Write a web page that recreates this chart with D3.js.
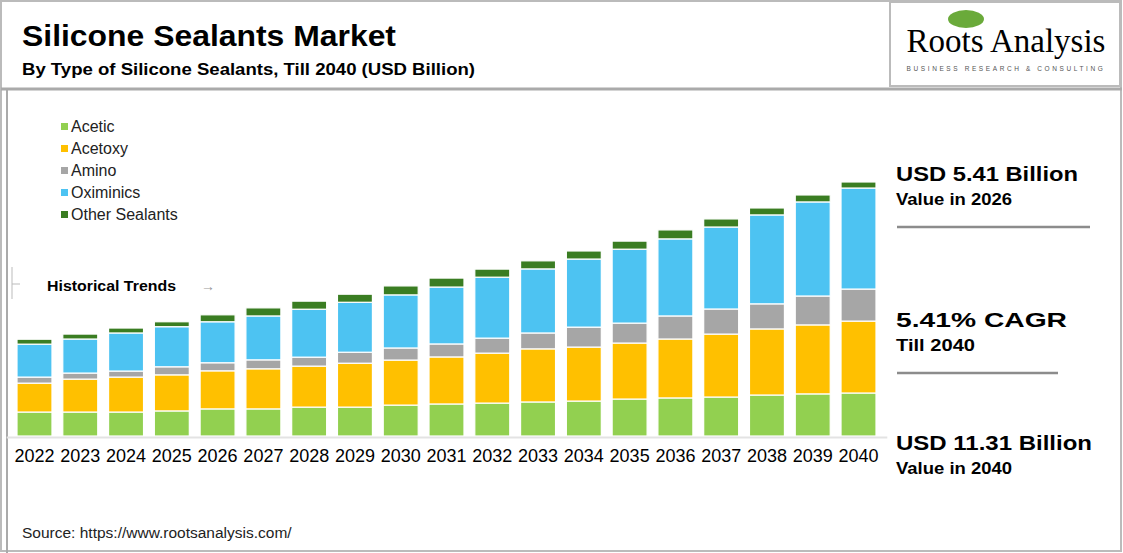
<!DOCTYPE html>
<html>
<head>
<meta charset="utf-8">
<script src="https://cdn.jsdelivr.net/npm/d3@7"></script>
<style>
  body { margin: 0; background: #fff; }
  svg { font-family: Arial, "Liberation Sans", sans-serif; }
</style>
</head>
<body>
<svg id="chart" width="1123" height="553"></svg>
<script>
const years = ["2022","2023","2024","2025","2026","2027","2028","2029","2030","2031",
  "2032","2033","2034","2035","2036","2037","2038","2039","2040"];
const seriesNames = ["Acetic", "Acetoxy", "Amino", "Oximinics", "Other Sealants"];
const colors = ["#92d050", "#ffc000", "#a6a6a6", "#4dc3f2", "#3a7d22"];

// USD billion
const acetic    = [1.07,1.07,1.07,1.12,1.21,1.21,1.29,1.29,1.38,1.43,1.47,1.52,1.56,1.65,1.70,1.74,1.83,1.88,1.92];
const acetoxy   = [1.29,1.47,1.56,1.61,1.70,1.79,1.83,1.96,2.01,2.10,2.23,2.37,2.41,2.50,2.63,2.81,2.95,3.08,3.21];
const amino     = [0.27,0.27,0.27,0.36,0.36,0.40,0.40,0.49,0.54,0.58,0.67,0.71,0.89,0.89,1.03,1.12,1.12,1.29,1.43];
const oximinics = [1.47,1.52,1.70,1.79,1.83,1.96,2.14,2.23,2.37,2.54,2.72,2.86,3.04,3.30,3.44,3.66,3.97,4.20,4.51];
const others    = [0.22,0.22,0.22,0.22,0.31,0.36,0.36,0.36,0.40,0.40,0.36,0.36,0.36,0.36,0.40,0.36,0.31,0.31,0.27];

const rows = years.map((y, i) => ({
  year: y,
  "Acetic": acetic[i], "Acetoxy": acetoxy[i], "Amino": amino[i],
  "Oximinics": oximinics[i], "Other Sealants": others[i]
}));

const svg = d3.select('#chart');

// frame
svg.append('rect').attr('x', 1).attr('y', 1).attr('width', 1120).attr('height', 550)
  .attr('fill', 'none').attr('stroke', '#bbb').attr('stroke-width', 2);
svg.append('line').attr('x1', 1).attr('x2', 1122).attr('y1', 89).attr('y2', 89)
  .attr('stroke', '#aaa').attr('stroke-width', 3);
svg.append('line').attr('x1', 7).attr('x2', 7).attr('y1', 89).attr('y2', 553)
  .attr('stroke', '#aaa').attr('stroke-width', 2);
svg.append('rect').attr('x', 890).attr('y', 2).attr('width', 230).attr('height', 84)
  .attr('fill', 'none').attr('stroke', '#bbb').attr('stroke-width', 2);

// titles
svg.append('text').attr('x', 22).attr('y', 46).attr('font-size', 29).attr('font-weight', 'bold')
  .attr('textLength', 374).attr('lengthAdjust', 'spacingAndGlyphs')
  .text('Silicone Sealants Market');
svg.append('text').attr('x', 22).attr('y', 75).attr('font-size', 16).attr('font-weight', 'bold')
  .attr('textLength', 453).attr('lengthAdjust', 'spacingAndGlyphs')
  .text('By Type of Silicone Sealants, Till 2040 (USD Billion)');

// logo
svg.append('ellipse').attr('cx', 966).attr('cy', 19).attr('rx', 18).attr('ry', 9).attr('fill', '#6aaa3a');
svg.append('text').attr('x', 1006).attr('y', 52).attr('text-anchor', 'middle')
  .attr('font-family', '"Liberation Serif", "DejaVu Serif", serif').attr('font-size', 33)
  .text('Roots Analysis');
svg.append('text').attr('x', 1006).attr('y', 71).attr('text-anchor', 'middle')
  .attr('font-size', 6.5).attr('letter-spacing', 2.6).attr('fill', '#555')
  .text('BUSINESS RESEARCH & CONSULTING');

// scales
const x = d3.scaleBand().domain(years).range([6.2, 886.8]).paddingInner(0.236).paddingOuter(0.236);
const y = d3.scaleLinear().domain([0, 12]).range([436, 167.2]);

const stacked = d3.stack().keys(seriesNames)(rows);

svg.append('g').selectAll('g')
  .data(stacked)
  .enter().append('g')
  .attr('fill', (d, i) => colors[i])
  .selectAll('rect')
  .data(d => d)
  .enter().append('rect')
  .attr('x', d => x(d.data.year))
  .attr('width', x.bandwidth())
  .attr('y', d => y(d[1]))
  .attr('height', d => y(d[0]) - y(d[1]))
  .attr('stroke', '#fff')
  .attr('stroke-width', 1.2);

// x axis
const xAxis = svg.append('g').attr('transform', 'translate(0,437)')
  .call(d3.axisBottom(x).tickSize(0).tickPadding(12));
xAxis.select('.domain').attr('stroke', '#e3e3e3').attr('stroke-width', 2);
xAxis.selectAll('text').attr('font-size', 18).attr('fill', '#000')
  .attr('font-family', 'Arial, "Liberation Sans", sans-serif');

// legend
const legend = svg.append('g').selectAll('g').data(seriesNames).enter().append('g')
  .attr('transform', (d, i) => `translate(61,${127 + i * 22})`);
legend.append('rect').attr('x', 0).attr('y', -4).attr('width', 7).attr('height', 7)
  .attr('fill', (d, i) => colors[i]);
legend.append('text').attr('x', 10).attr('y', 5).attr('font-size', 16).attr('fill', '#222').text(d => d);

// historical trends marker
svg.append('line').attr('x1', 12).attr('x2', 12).attr('y1', 267).attr('y2', 299).attr('stroke', '#bbb');
svg.append('line').attr('x1', 12).attr('x2', 20).attr('y1', 284).attr('y2', 284).attr('stroke', '#bbb');
svg.append('text').attr('x', 47).attr('y', 291).attr('font-size', 15).attr('font-weight', 'bold')
  .attr('textLength', 129).attr('lengthAdjust', 'spacingAndGlyphs')
  .text('Historical Trends');
svg.append('text').attr('x', 201).attr('y', 291).attr('font-size', 14).attr('fill', '#999').text('→');

// right panel
const notes = [
  { big: 'USD 5.41 Billion', small: 'Value in 2026', y: 181, line: 1090, w: 182, sw: 116 },
  { big: '5.41% CAGR', small: 'Till 2040', y: 327, line: 1058, w: 171, sw: 79 },
  { big: 'USD 11.31 Billion', small: 'Value in 2040', y: 450, line: null, w: 196, sw: 116 }
];
notes.forEach(n => {
  svg.append('text').attr('x', 896).attr('y', n.y).attr('font-size', 21).attr('font-weight', 'bold')
    .attr('textLength', n.w).attr('lengthAdjust', 'spacingAndGlyphs').text(n.big);
  svg.append('text').attr('x', 896).attr('y', n.y + 24).attr('font-size', 17).attr('font-weight', 'bold')
    .attr('textLength', n.sw).attr('lengthAdjust', 'spacingAndGlyphs').text(n.small);
  if (n.line) {
    svg.append('line').attr('x1', 897).attr('x2', n.line).attr('y1', n.y + 46).attr('y2', n.y + 46)
      .attr('stroke', '#8c8c8c').attr('stroke-width', 2.5);
  }
});

// source
svg.append('text').attr('x', 22).attr('y', 538).attr('font-size', 15.5).attr('fill', '#222')
  .text('Source: https://www.rootsanalysis.com/');
</script>
</body>
</html>
